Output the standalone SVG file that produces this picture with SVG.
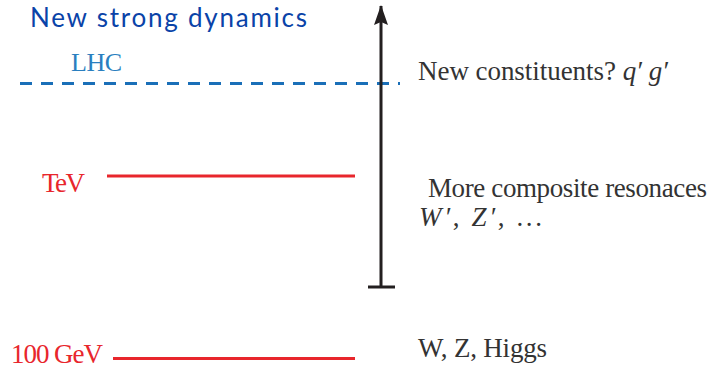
<svg xmlns="http://www.w3.org/2000/svg" width="710" height="372" viewBox="0 0 710 372">
<style>
.lbl{font-family:"Liberation Serif","DejaVu Serif",serif;font-size:27px;fill:#333}
.red{fill:#e8262c}
.lvl{stroke:#e8262c;stroke-width:3;fill:none}
.it{font-style:italic}
</style>
<defs>
<marker id="ah" markerWidth="14" markerHeight="20" refX="7" refY="1" orient="0" markerUnits="userSpaceOnUse">
<path d="M0,20 L7,0 L14,20 L7,17 Z" fill="#231f20"/>
</marker>
</defs>
<rect width="710" height="372" fill="#fff"/>
<text x="30" y="27" font-family="Lato,'Open Sans',sans-serif" font-size="26" fill="#0a43a8" textLength="277">New strong dynamics</text>
<g id="lhc">
<text x="71" y="71" font-family="'Liberation Serif',serif" font-size="26" fill="#2a7fc0" textLength="51">LHC</text>
<line x1="20" y1="83.5" x2="400" y2="83.5" stroke="#1a6fb8" stroke-width="3" stroke-dasharray="12,9"/>
</g>
<g id="tev">
<text class="lbl red" x="42" y="192" textLength="43">TeV</text>
<line class="lvl" x1="107" y1="176" x2="355" y2="176"/>
</g>
<g id="gev">
<text class="lbl red" x="11" y="363" textLength="92">100 GeV</text>
<line class="lvl" x1="113" y1="358.5" x2="355" y2="358.5"/>
</g>
<g id="connectors">
<line x1="381" y1="287" x2="381" y2="6" stroke="#231f20" stroke-width="3" marker-end="url(#ah)"/>
<line x1="368" y1="287" x2="395" y2="287" stroke="#231f20" stroke-width="3"/>
</g>
<g id="notes">
<text class="lbl" x="418" y="80" textLength="250">New constituents? <tspan class="it">q′</tspan> <tspan class="it">g′</tspan></text>
<text class="lbl" x="428" y="197" textLength="279">More composite resonaces</text>
<text class="lbl" x="419" y="226" textLength="123"><tspan class="it">W′</tspan>, <tspan class="it">Z′</tspan>, ...</text>
<text class="lbl" x="418" y="357" textLength="129">W, Z, Higgs</text>
</g>
</svg>
